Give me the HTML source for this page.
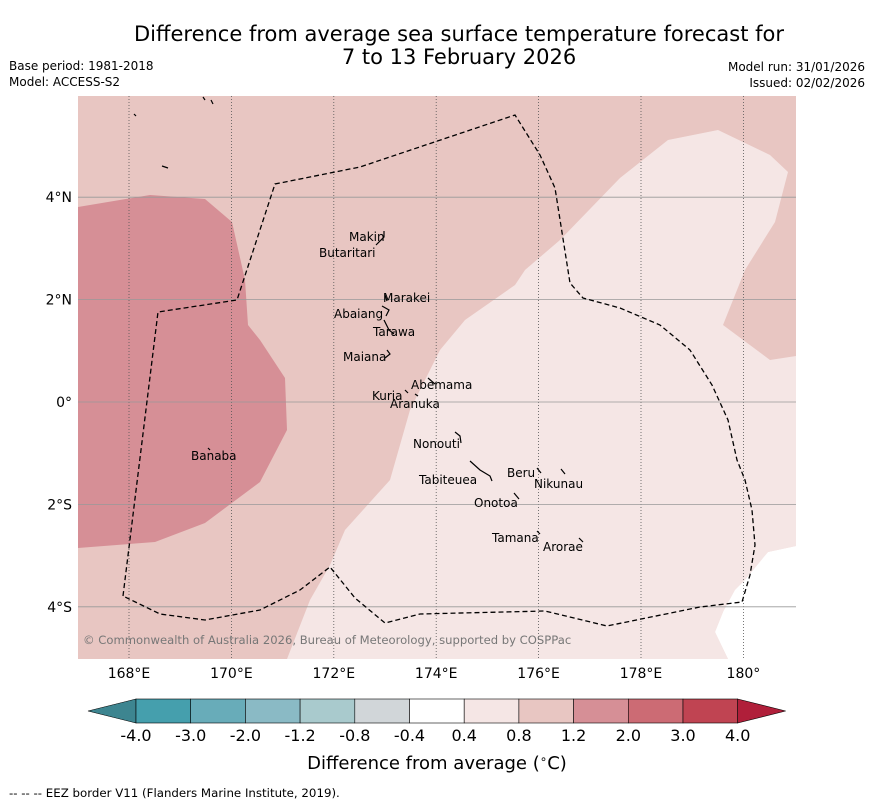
<!DOCTYPE html>
<html><head><meta charset="utf-8"><style>
body{margin:0;background:#fff;width:873px;height:804px;overflow:hidden;font-family:"Liberation Sans","DejaVu Sans",sans-serif}
svg{display:block}
</style></head><body>
<svg width="873" height="804" xmlns="http://www.w3.org/2000/svg">
<text x="459" y="41" font-size="21" text-anchor="middle" font-family="DejaVu Sans,sans-serif">Difference from average sea surface temperature forecast for</text>
<text x="459" y="64" font-size="21" text-anchor="middle" font-family="DejaVu Sans,sans-serif">7 to 13 February 2026</text>
<g font-size="12" font-family="DejaVu Sans,sans-serif">
<text x="9" y="70">Base period: 1981-2018</text>
<text x="9" y="86">Model: ACCESS-S2</text>
<text x="865" y="71" text-anchor="end">Model run: 31/01/2026</text>
<text x="865" y="87" text-anchor="end">Issued: 02/02/2026</text>
</g>
<defs><clipPath id="mc"><rect x="78" y="96" width="718" height="563"/></clipPath></defs>
<g clip-path="url(#mc)">
<rect x="78" y="96" width="718" height="563" fill="#e8c6c2"/>
<polygon fill="#d68f96" points="78,207 150,195 205,199 232,222 245,280 248,325 260,340 285,378 287,430 260,482 205,523 155,542 78,548"/>
<polygon fill="#f5e6e5" points="287,659 310,600 330,565 345,530 390,480 410,410 440,350 465,320 515,285 525,270 560,240 620,178 668,140 718,130 770,155 788,172 775,222 745,270 723,325 770,360 796,356 796,546 768,552 745,582 735,600 723,612 715,632 728,659"/>
<polygon fill="#ffffff" points="728,659 715,632 723,612 735,590 745,580 768,552 796,546 796,659"/>
<g id="grid"></g>
<polyline fill="none" stroke="#000" stroke-width="1.3" stroke-dasharray="5,3" points="123,596 158,312 237,300 275,184 360,167 515,115 540,155 555,188 570,283 583,298 620,308 660,325 690,350 712,385 728,420 737,460 745,480 752,510 755,545 750,575 742,602 700,607 607,626 545,611 420,614 385,623 355,598 330,567 300,590 260,610 205,620 160,614 123,596"/>
<g font-size="12" font-family="DejaVu Sans,sans-serif">
<text x="349" y="241">Makin</text><text x="319" y="257">Butaritari</text>
<text x="383" y="302">Marakei</text><text x="334" y="318">Abaiang</text>
<text x="373" y="336">Tarawa</text><text x="343" y="361">Maiana</text>
<text x="411" y="389">Abemama</text><text x="372" y="400">Kuria</text>
<text x="390" y="408">Aranuka</text><text x="413" y="448">Nonouti</text>
<text x="191" y="460">Banaba</text><text x="507" y="477">Beru</text>
<text x="534" y="488">Nikunau</text><text x="419" y="484">Tabiteuea</text>
<text x="474" y="507">Onotoa</text><text x="492" y="542">Tamana</text>
<text x="543" y="551">Arorae</text>
</g>
<g fill="none" stroke="#000" stroke-width="1.2">
<path d="M384,231 L384,237 L376,245"/><path d="M385,295 L387,301"/><path d="M382,306 L389,310 L386,316"/>
<path d="M384,320 L389,330 L394,334"/><path d="M387,350 L390,354 L385,358"/><path d="M428,378 L435,384"/>
<path d="M405,390 L408,393"/><path d="M415,394 L418,396"/><path d="M455,432 L460,436 L461,443"/>
<path d="M470,461 L480,470 L490,476 L492,481"/><path d="M537,468 L541,473"/><path d="M561,469 L565,474"/>
<path d="M514,493 L519,499"/><path d="M537,531 L540,534"/><path d="M579,538 L583,542"/>
<path d="M208,448 L210,450"/><path d="M203,97 L205,100"/><path d="M211,100 L213,104"/><path d="M134,114 L136,116"/><path d="M162,166 L168,168"/>
</g>
<text x="83" y="644" font-size="11.6" fill="#777" font-family="DejaVu Sans,sans-serif">© Commonwealth of Australia 2026, Bureau of Meteorology, supported by COSPPac</text>
</g>
<g id="axes" font-size="14" font-family="DejaVu Sans,sans-serif"></g>
<g id="cbar"></g>
<text x="437" y="769" font-size="18" text-anchor="middle" font-family="DejaVu Sans,sans-serif">Difference from average (<tspan font-size="12" dy="-6">∘</tspan><tspan dy="6">C)</tspan></text>
<text x="9" y="797" font-size="11.8" font-family="DejaVu Sans,sans-serif">--  --  -- EEZ border V11 (Flanders Marine Institute, 2019).</text>
</svg>
<script>
const lonTicks=[168,170,172,174,176,178,180];
const lonLabels=["168°E","170°E","172°E","174°E","176°E","178°E","180°"];
const latTicks=[4,2,0,-2,-4];
const latLabels=["4°N","2°N","0°","2°S","4°S"];
const levels=["-4.0","-3.0","-2.0","-1.2","-0.8","-0.4","0.4","0.8","1.2","2.0","3.0","4.0"];
const binColors=["#459fad","#68acb9","#8abac5","#a9cacd","#d1d6d9","#ffffff","#f5e6e5","#e8c6c2","#d68f96","#cc6b74","#c04452"];
const NS="http://www.w3.org/2000/svg";
const x=lon=>129+(lon-168)*51.2;
const y=lat=>402-lat*51.2;
function mk(t,a,p){const e=document.createElementNS(NS,t);for(const k in a)e.setAttribute(k,a[k]);p.appendChild(e);return e;}
const grid=document.getElementById('grid'),axes=document.getElementById('axes'),cb=document.getElementById('cbar');
lonTicks.forEach((v,i)=>{
 const l=mk('line',{x1:x(v),x2:x(v),y1:96,y2:659,stroke:'#555','stroke-width':0.8,'stroke-dasharray':'1,2'},grid);
 
 
 const t=mk('text',{x:x(v),y:678,'text-anchor':'middle'},axes);t.textContent=lonLabels[i];
 
 
});
latTicks.forEach((v,i)=>{
 const l=mk('line',{x1:78,x2:796,y1:y(v),y2:y(v),stroke:'#999','stroke-width':0.8},grid);
 
 
 const t=mk('text',{x:72,y:y(v)+5,'text-anchor':'end'},axes);t.textContent=latLabels[i];
 
 
});
const cx0=136,cw=54.7,cy=699,ch=24;
const lt=mk('polygon',{points:`88,${cy+ch/2} ${cx0},${cy} ${cx0},${cy+ch}`,fill:'#3d8590',stroke:'#000','stroke-width':0.6},cb);


binColors.forEach((c,i)=>{
 const r=mk('rect',{x:cx0+i*cw,y:cy,width:cw,height:ch,fill:c,stroke:'#000','stroke-width':0.6},cb);
 
 
});
const xe=cx0+binColors.length*cw;
const rt=mk('polygon',{points:`${xe},${cy} ${xe+48},${cy+ch/2} ${xe},${cy+ch}`,fill:'#b01f3a',stroke:'#000','stroke-width':0.6},cb);


levels.forEach((v,i)=>{
 const t=mk('text',{x:cx0+i*cw,y:741,'text-anchor':'middle','font-size':16,'font-family':'DejaVu Sans,sans-serif'},cb);t.textContent=v;
 
 
});
</script>
</body></html>
